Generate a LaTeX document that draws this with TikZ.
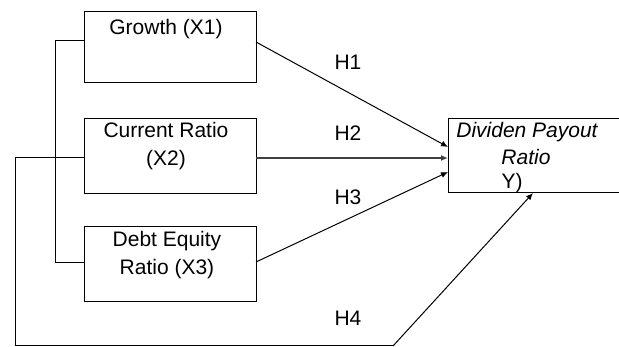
\documentclass[tikz,border=0pt]{standalone}
\usepackage{fontspec}
\setmainfont{Liberation Sans}
\usetikzlibrary{arrows.meta}
\begin{document}
\begin{tikzpicture}[x=1pt,y=-1pt,
  box/.style={draw,line width=1pt,minimum width=172pt,inner sep=0pt},
  txt/.style={font=\fontsize{21}{28}\selectfont,align=center,inner sep=0pt},
  hl/.style={font=\fontsize{21}{25}\selectfont,inner sep=0pt},
  conn/.style={line width=1pt},
  arr/.style={line width=1pt,-{Latex[length=7pt,width=6pt]}}]
\useasboundingbox (0,0) rectangle (619,347);
\node[box,minimum height=71pt] (g) at (170,47.5) {};
\node[box,minimum height=75pt] (c) at (170,156.5) {};
\node[box,minimum height=75pt] (d) at (170,264.5) {};
\node[box,minimum width=171pt,minimum height=74pt] (y) at (533.5,156) {};
\node[txt] (tg) at (166,29) {Growth (X1)};
\node[txt] (tc) at (166,146) {Current Ratio\\(X2)};
\node[txt] (td) at (167,255) {Debt Equity\\Ratio (X3)};
\node[hl,font=\fontsize{21}{25}\selectfont\itshape] (ty1) at (527,132) {Dividen Payout};
\node[hl,font=\fontsize{21}{25}\selectfont\itshape] (ty2) at (526,157) {Ratio};
\node[hl] (ty3) at (512,183) {Y)};
\node[hl] (h1) at (348,62) {H1};
\node[hl] (h2) at (348,133) {H2};
\node[hl] (h3) at (348,197) {H3};
\node[hl] (h4) at (348,318) {H4};
\coordinate (gw) at (84,41);
\coordinate (ge) at (256,42);
\coordinate (cw) at (84,158);
\coordinate (ce) at (256,158);
\coordinate (dw) at (84,263);
\coordinate (de) at (256,262);
\coordinate (y1) at (448,147);
\coordinate (y2) at (448,158);
\coordinate (y3) at (448,172);
\coordinate (ys) at (533,193);
\coordinate (bl) at (55,41);
\coordinate (b2) at (55,263);
\coordinate (o1) at (15,158);
\coordinate (o2) at (15,346);
\coordinate (o3) at (393,346);
\draw[conn] (gw) -- (bl) -- (b2) -- (dw);
\draw[conn] (cw) -- (o1) -- (o2) -- (o3);
\draw[arr] (o3) -- (ys);
\draw[arr] (ge) -- (y1);
\draw[arr,line width=1.4pt,draw=black!75] (ce) -- (y2);
\draw[arr] (de) -- (y3);
\end{tikzpicture}
\end{document}
